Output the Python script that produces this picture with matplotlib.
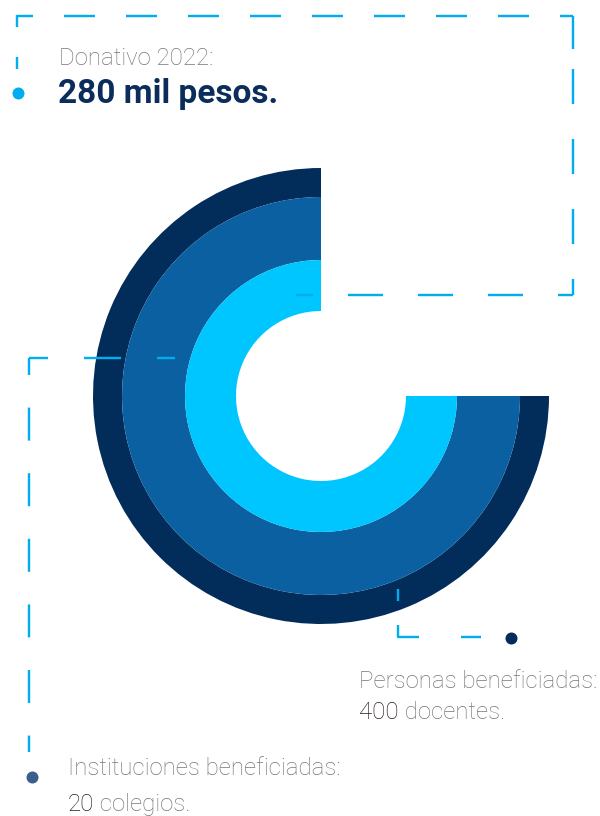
import numpy as np
import matplotlib
matplotlib.use('Agg')
import matplotlib.pyplot as plt

# ---------------------------------------------------------------- theme
NAVY, BLUE, CYAN = '#022C5A', '#0A60A0', '#00C6FF'
DASH = '#00AEEF'
STEEL = '#3A5F8F'
GREY, DARK = '#767676', '#2B1E24'
VALUE_NAVY = '#0B2D5B'

plt.rcParams['font.family'] = ['Roboto', 'DejaVu Sans']
plt.rcParams['lines.scale_dashes'] = False

PT = 0.72  # px -> pt at dpi 100

# ---------------------------------------------------------------- data
ring_names = ['Personas', 'Instituciones', 'Donativo']     # outer -> inner
ring_share = [0.75, 0.75, 0.75]                             # share of full circle
ring_colors = [NAVY, BLUE, CYAN]

labels = ['Donativo 2022:', 'Personas beneficiadas:', 'Instituciones beneficiadas:']
numbers = ['280 mil pesos.', '400', '20']
units = ['', ' docentes.', ' colegios.']

# ring radii in px (outer, inner), centre of the donut in px
ring_outer = [228, 199, 136]
ring_inner = [199, 136, 85]
CX, CY, R = 321, 396, 229

W, H = 600, 816
fig = plt.figure(figsize=(W / 100, H / 100), dpi=100)
fig.patch.set_facecolor('white')

# ---------------------------------------------------------------- rings (polar)
pax = fig.add_axes([(CX - R) / W, (H - CY - R) / H, 2 * R / W, 2 * R / H],
                   projection='polar')
pax.set_theta_zero_location('N')
pax.set_theta_direction(1)
for share, ro, ri, col in zip(ring_share, ring_outer, ring_inner, ring_colors):
    pax.bar(0, ro - ri, width=share * 2 * np.pi, bottom=ri, align='edge',
            color=col, linewidth=0)
pax.set_ylim(0, R)
pax.axis('off')

# ---------------------------------------------------------------- overlay (px)
ax = fig.add_axes([0, 0, 1, 1])
ax.set_xlim(0, W)
ax.set_ylim(H, 0)
ax.axis('off')
ax.patch.set_alpha(0)


def dashed(xs, ys, offset, pattern):
    ax.plot(xs, ys, color=DASH, lw=2.4 * PT, solid_capstyle='butt',
            dash_capstyle='butt',
            linestyle=(offset * PT, tuple(p * PT for p in pattern)))


# frame round the donation label
dashed([17, 17], [15, 69], 0, (12, 30))
dashed([17, 573], [15.5, 15.5], 15, (31, 31))
dashed([573, 573], [15.5, 295], 0, (33, 20, 35, 35, 35, 35, 35, 35, 35, 35))
dashed([573, 296], [295, 295], 20, (35, 35))
# leader for institutions
dashed([29, 175], [358, 358], 18, (37, 36))
dashed([29, 29], [358, 752], 16, (33, 32.6))
# leader for people
dashed([398, 398, 481], [589, 637, 637], 0, (12, 24, 33, 42, 20, 60))

# bullets
ax.plot(18, 93, 'o', color='#00AEEF', ms=12 * PT, mec='none')
ax.plot(511, 638, 'o', color=NAVY, ms=12 * PT, mec='none')
ax.plot(32, 777, 'o', color=STEEL, ms=12 * PT, mec='none')

# ---------------------------------------------------------------- texts
LBL = 17.3
ax.text(59, 65, labels[0], color=GREY, fontsize=LBL, fontweight='light',
        va='baseline', ha='left')
ax.text(58, 103, numbers[0], color=VALUE_NAVY, fontsize=24,
        fontweight='bold', va='baseline', ha='left')

for (x, y0, y1), lab, num, unit in zip([(359, 688, 719), (68, 775, 811)],
                                      labels[1:], numbers[1:], units[1:]):
    ax.text(x, y0, lab, color=GREY, fontsize=LBL, fontweight='light',
            va='baseline', ha='left')
    t = ax.text(x, y1, num, color=DARK, fontsize=LBL, fontweight='light',
                va='baseline', ha='left')
    ax.annotate(unit, xy=(1, 0), xycoords=t, va='bottom', ha='left',
                color=GREY, fontsize=LBL, fontweight='light')

fig.savefig('out.png', dpi=100, facecolor='white')
